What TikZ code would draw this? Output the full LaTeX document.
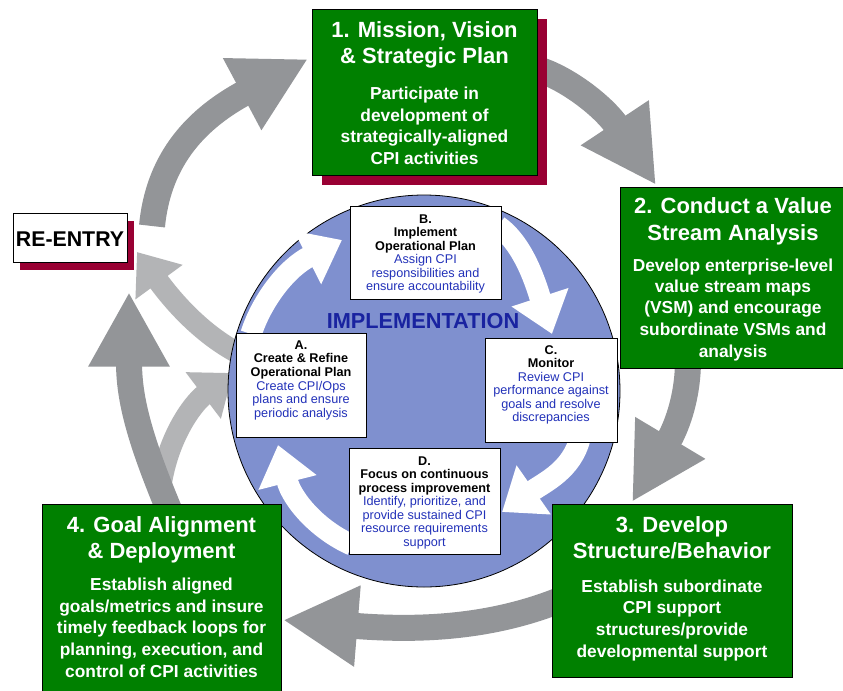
\documentclass[tikz,border=0pt]{standalone}
\usepackage{fontspec}
\setmainfont{Liberation Sans}
\usetikzlibrary{arrows.meta}
\definecolor{cpigreen}{RGB}{0,128,0}
\definecolor{cpimaroon}{RGB}{153,0,51}
\definecolor{darkarrow}{RGB}{147,149,152}
\definecolor{lightarrow}{RGB}{179,180,182}
\definecolor{circblue}{RGB}{127,144,207}
\definecolor{txtblue}{RGB}{35,50,185}
\definecolor{impblue}{RGB}{25,35,160}
\begin{document}
\begin{tikzpicture}[x=0.75pt,y=-0.75pt,
  darkarr/.style={draw=darkarrow, line width=19.5pt, -{Triangle[width=57pt,length=56pt]}},
  lightarr/.style={draw=lightarrow, line width=16pt, -{Triangle[width=42pt,length=28pt]}},
  whitearr/.style={draw=white, line width=16pt, -{Triangle[width=43pt,length=29pt]}},
  greenbox/.style={rectangle, draw=black, line width=0.6pt, fill=cpigreen, inner sep=0pt},
  shadowbox/.style={rectangle, fill=cpimaroon, inner sep=0pt},
  whitebox/.style={rectangle, draw=black, line width=0.6pt, fill=white, inner sep=0pt},
  ttl/.style={text=white, font=\fontsize{16.5}{20}\selectfont\bfseries, inner sep=0pt, anchor=base},
  sub/.style={text=white, font=\fontsize{13}{16}\selectfont\bfseries, inner sep=0pt, anchor=base},
  ihead/.style={text=black, font=\fontsize{9.5}{10}\selectfont\bfseries, inner sep=0pt, anchor=base},
  ibody/.style={text=txtblue, font=\fontsize{9.5}{10}\selectfont, inner sep=0pt, anchor=base}
]
\useasboundingbox[fill=white] (0,0) rectangle (843,690);

% ---------- light gray arrows (re-entry loop) ----------
\coordinate (la1s) at (236,352);
\coordinate (la1e) at (137,252);
\draw[lightarr] (la1s) .. controls (205,335) and (178,308) .. (la1e);
\coordinate (la2s) at (160,492);
\coordinate (la2e) at (233,373);
\draw[lightarr] (la2s) .. controls (166,440) and (192,404) .. (la2e);

% ---------- dark gray outer arrows ----------
\coordinate (d1s) at (152,226);
\coordinate (d1e) at (308,59);
\draw[darkarr] (d1s) .. controls (158,165) and (190,122) .. (d1e);
\coordinate (d2s) at (540,70);
\coordinate (d2e) at (656,185);
\draw[darkarr] (d2s) .. controls (570,80) and (605,108) .. (d2e);
\coordinate (d3s) at (688,360);
\coordinate (d3e) at (632,502);
\draw[darkarr] (d3s) .. controls (688,400) and (675,430) .. (d3e);
\coordinate (d4s) at (565,598);
\coordinate (d4e) at (283,620);
\draw[darkarr] (d4s) .. controls (500,625) and (430,632) .. (d4e);
\coordinate (d5s) at (170,512);
\coordinate (d5e) at (129,292);
\draw[darkarr] (d5s) .. controls (140,440) and (129,400) .. (d5e);

% ---------- implementation circle ----------
\node[circle, minimum size=294pt, inner sep=0pt, fill=circblue, draw=black, line width=0.6pt] (impl) at (424,391) {};

% white arrows inside the circle
\coordinate (w1s) at (251,334);
\coordinate (w1e) at (342,240);
\draw[whitearr] (w1s) .. controls (262,300) and (287,268) .. (w1e);
\coordinate (w2s) at (498,226);
\coordinate (w2e) at (552,334);
\draw[whitearr] (w2s) .. controls (525,245) and (537,288) .. (w2e);
\coordinate (w3s) at (580,438);
\coordinate (w3e) at (502,512);
\draw[whitearr] (w3s) .. controls (572,470) and (545,482) .. (w3e);
\coordinate (w4s) at (352,545);
\coordinate (w4e) at (278,445);
\draw[whitearr] (w4s) .. controls (318,530) and (292,500) .. (w4e);

\node[text=impblue, font=\fontsize{16.3}{18}\selectfont\bfseries, inner sep=0pt, anchor=base] (impltxt) at (423,328) {IMPLEMENTATION};

% ---------- inner boxes ----------
\node[whitebox, minimum width=113.25pt, minimum height=69.75pt] (bB) at (425.5,252.5) {};
\node[ihead] (bB1) at (425.5,223) {B.};
\node[ihead] (bB2) at (425.5,236.5) {Implement};
\node[ihead] (bB3) at (425.5,250) {Operational Plan};
\node[ibody] (bB4) at (425.5,263.5) {Assign CPI};
\node[ibody] (bB5) at (425.5,277) {responsibilities and};
\node[ibody] (bB6) at (425.5,290.5) {ensure accountability};

\node[whitebox, minimum width=97.5pt, minimum height=78pt] (bA) at (301,385) {};
\node[ihead] (bA1) at (301,349) {A.};
\node[ihead] (bA2) at (301,362.5) {Create \& Refine};
\node[ihead] (bA3) at (301,376) {Operational Plan};
\node[ibody] (bA4) at (301,390) {Create CPI/Ops};
\node[ibody] (bA5) at (301,403.5) {plans and ensure};
\node[ibody] (bA6) at (301,417) {periodic analysis};

\node[whitebox, minimum width=99pt, minimum height=78pt] (bC) at (551,390) {};
\node[ihead] (bC1) at (551,354) {C.};
\node[ihead] (bC2) at (551,367.5) {Monitor};
\node[ibody] (bC3) at (551,381) {Review CPI};
\node[ibody] (bC4) at (551,394.5) {performance against};
\node[ibody] (bC5) at (551,408) {goals and resolve};
\node[ibody] (bC6) at (551,421.5) {discrepancies};

\node[whitebox, minimum width=113.25pt, minimum height=79.5pt] (bD) at (424.5,501) {};
\node[ihead] (bD1) at (424.5,465) {D.};
\node[ihead] (bD2) at (424.5,478.5) {Focus on continuous};
\node[ihead] (bD3) at (424.5,492) {process improvement};
\node[ibody] (bD4) at (424.5,505.5) {Identify, prioritize, and};
\node[ibody] (bD5) at (424.5,519) {provide sustained CPI};
\node[ibody] (bD6) at (424.5,532.5) {resource requirements};
\node[ibody] (bD7) at (424.5,546) {support};

% ---------- RE-ENTRY ----------
\node[shadowbox, minimum width=85.5pt, minimum height=36.75pt] (resh) at (77,245.5) {};
\node[whitebox, minimum width=85.5pt, minimum height=36.75pt] (re) at (70,237.5) {};
\node[text=black, font=\fontsize{16}{18}\selectfont\bfseries, inner sep=0pt, anchor=base] (retxt) at (70,246) {RE-ENTRY};

% ---------- 1. Mission ----------
\node[shadowbox, minimum width=168.75pt, minimum height=124.5pt] (s1sh) at (434.5,101.5) {};
\node[greenbox, minimum width=168.75pt, minimum height=124.5pt] (s1) at (424.5,92) {};
\foreach \t/\y [count=\i] in {{1. Mission, Vision}/37, {\& Strategic Plan}/63}
  \node[ttl] (s1t\i) at (424.5,\y) {\t};
\foreach \t/\y [count=\i] in {{Participate in}/99, {development of}/121, {strategically-aligned}/142, {CPI activities}/164}
  \node[sub] (s1s\i) at (424.5,\y) {\t};

% ---------- 2. Conduct ----------
\node[greenbox, minimum width=168.75pt, minimum height=135.75pt] (s2) at (732.5,277.5) {};
\foreach \t/\y [count=\i] in {{2. Conduct a Value}/213, {Stream Analysis}/240}
  \node[ttl] (s2t\i) at (733,\y) {\t};
\foreach \t/\y [count=\i] in {{Develop enterprise-level}/271, {value stream maps}/292, {(VSM) and encourage}/313, {subordinate VSMs and}/335, {analysis}/357}
  \node[sub] (s2s\i) at (733,\y) {\t};

% ---------- 3. Develop ----------
\node[greenbox, minimum width=180pt, minimum height=129.75pt] (s3) at (672,590.5) {};
\foreach \t/\y [count=\i] in {{3. Develop}/532, {Structure/Behavior}/558}
  \node[ttl] (s3t\i) at (672,\y) {\t};
\foreach \t/\y [count=\i] in {{Establish subordinate}/592, {CPI support}/613, {structures/provide}/635, {developmental support}/657}
  \node[sub] (s3s\i) at (672,\y) {\t};

% ---------- 4. Goal ----------
\node[greenbox, minimum width=179.25pt, minimum height=140.25pt] (s4) at (161.5,597.5) {};
\foreach \t/\y [count=\i] in {{4. Goal Alignment}/532, {\& Deployment}/558}
  \node[ttl] (s4t\i) at (161.5,\y) {\t};
\foreach \t/\y [count=\i] in {{Establish aligned}/590, {goals/metrics and insure}/612, {timely feedback loops for}/633, {planning, execution, and}/655, {control of CPI activities}/677}
  \node[sub] (s4s\i) at (161.5,\y) {\t};
\end{tikzpicture}
\end{document}
